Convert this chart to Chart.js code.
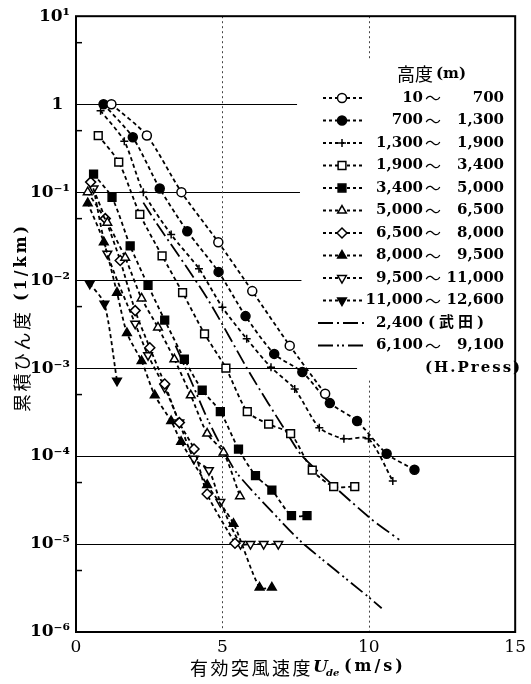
<!DOCTYPE html>
<html>
<head>
<meta charset="utf-8">
<script src="https://cdn.jsdelivr.net/npm/chart.js@4.4.0/dist/chart.umd.min.js"></script>
<style>
  html, body { margin: 0; padding: 0; background: #fff; }
  #wrap { width: 531px; height: 684px; position: relative; }
</style>
</head>
<body>
<div id="wrap"><canvas id="c" width="531" height="684"></canvas></div>
<script>
// ---- axis ticks ----
const X_TICKS = [0, 5, 10, 15];
const Y_DECADES = [1e-6, 1e-5, 1e-4, 1e-3, 1e-2, 1e-1, 1, 10];
const Y_TICK_LABELS = ['10⁻⁶', '10⁻⁵', '10⁻⁴', '10⁻³', '10⁻²', '10⁻¹', '1\u2009\u2009', '10¹'];

// ---- altitude bands (legend text) ----
const bandFrom = ['10', '700', '1,300', '1,900', '3,400', '5,000', '6,500', '8,000', '9,500', '11,000', '2,400', '6,100'];
const bandTo   = ['700', '1,300', '1,900', '3,400', '5,000', '6,500', '8,000', '9,500', '11,000', '12,600', '(武田)', '9,100'];

// ---- cumulative frequency (1/km) vs. effective gust velocity Ude (m/s) ----
const ude_10_700 = [1.21, 2.42, 3.6, 4.86, 6.02, 7.3, 8.51];
const n_10_700   = [1.0, 0.44, 0.1, 0.027, 0.0075, 0.0018, 5.1e-4];

const ude_700_1300 = [0.94, 1.94, 2.86, 3.8, 4.87, 5.79, 6.77, 7.73, 8.67, 9.6, 10.61, 11.56];
const n_700_1300   = [1.0, 0.42, 0.11, 0.036, 0.0124, 0.0039, 0.00145, 9e-4, 4e-4, 2.5e-4, 1.06e-4, 7e-5];

const ude_1300_1900 = [0.84, 1.65, 2.3, 3.25, 4.2, 5.0, 5.83, 6.66, 7.47, 8.31, 9.15, 9.99, 10.82];
const n_1300_1900   = [0.84, 0.38, 0.1, 0.033, 0.0135, 0.0049, 0.00215, 0.00102, 5.8e-4, 2.1e-4, 1.57e-4, 1.57e-4, 5.2e-5];

const ude_1900_3400 = [0.76, 1.46, 2.18, 2.94, 3.64, 4.39, 5.12, 5.85, 6.58, 7.33, 8.07, 8.8, 9.52];
const n_1900_3400   = [0.44, 0.22, 0.056, 0.0189, 0.0072, 0.00245, 0.001, 3.2e-4, 2.3e-4, 1.8e-4, 6.9e-5, 4.5e-5, 4.5e-5];

const ude_3400_5000 = [0.6, 1.23, 1.85, 2.46, 3.03, 3.7, 4.31, 4.93, 5.55, 6.13, 6.69, 7.36, 7.89];
const n_3400_5000   = [0.16, 0.087, 0.0245, 0.0087, 0.0035, 0.00126, 5.6e-4, 3.2e-4, 1.2e-4, 6e-5, 4.1e-5, 2.1e-5, 2.1e-5];

const ude_5000_6500 = [0.4, 1.07, 1.68, 2.24, 2.8, 3.36, 3.92, 4.48, 5.04, 5.6];
const n_5000_6500   = [0.1, 0.045, 0.018, 0.0062, 0.0029, 0.00126, 4.9e-4, 1.8e-4, 1.1e-4, 3.5e-5];

const ude_6500_8000 = [0.5, 1.0, 1.51, 2.02, 2.52, 3.03, 3.53, 4.03, 4.48, 5.43];
const n_6500_8000   = [0.13, 0.05, 0.0167, 0.0045, 0.0017, 6.6e-4, 2.4e-4, 1.2e-4, 3.7e-5, 1.02e-5];

const ude_8000_9500 = [0.4, 0.95, 1.4, 1.74, 2.24, 2.69, 3.25, 3.59, 4.48, 5.38, 6.27, 6.69];
const n_8000_9500   = [0.075, 0.027, 0.0072, 0.0025, 0.0012, 4.9e-4, 2.5e-4, 1.45e-4, 4.7e-5, 1.7e-5, 3.2e-6, 3.2e-6];

const ude_9500_11000 = [0.6, 1.07, 2.02, 2.46, 3.03, 3.53, 4.03, 4.54, 4.93, 5.62, 5.96, 6.41, 6.91];
const n_9500_11000   = [0.11, 0.02, 0.0032, 0.0014, 6e-4, 2.4e-4, 9.3e-5, 6.9e-5, 3e-5, 1e-5, 1e-5, 1e-5, 1e-5];

const ude_11000_12600 = [0.47, 0.97, 1.4];
const n_11000_12600   = [0.0091, 0.0054, 7.2e-4];

// reference curves
const ude_takeda = [2.3, 2.7, 4.47, 5.96, 7.19, 7.75, 9.99, 11.04];
const n_takeda   = [0.076, 0.047, 0.0063, 8.5e-4, 1.86e-4, 9.8e-5, 2.04e-5, 1.12e-5];

const ude_press = [3.4, 4.0, 4.5, 5.04, 5.51, 6.97, 7.75, 9.99, 10.44];
const n_press   = [1.8e-3, 6.3e-4, 2.6e-4, 1.15e-4, 6.3e-5, 1.86e-5, 1.02e-5, 2.5e-6, 1.86e-6];

const SERIES_X = [ude_10_700, ude_700_1300, ude_1300_1900, ude_1900_3400, ude_3400_5000, ude_5000_6500,
                  ude_6500_8000, ude_8000_9500, ude_9500_11000, ude_11000_12600, ude_takeda, ude_press];
const SERIES_Y = [n_10_700, n_700_1300, n_1300_1900, n_1900_3400, n_3400_5000, n_5000_6500,
                  n_6500_8000, n_8000_9500, n_9500_11000, n_11000_12600, n_takeda, n_press];

// ---- drawing styles, one per series ----
const DOTTED = [4, 3];
const STYLES = [
  { style: 'circle',   r: 4.5, fill: '#fff', rot: 0,   dash: DOTTED },
  { style: 'circle',   r: 4.5, fill: '#000', rot: 0,   dash: DOTTED },
  { style: 'cross',    r: 4,   fill: '#000', rot: 0,   dash: DOTTED },
  { style: 'rect',     r: 5.5, fill: '#fff', rot: 0,   dash: DOTTED },
  { style: 'rect',     r: 5.5, fill: '#000', rot: 0,   dash: DOTTED },
  { style: 'triangle', r: 5,   fill: '#fff', rot: 0,   dash: DOTTED },
  { style: 'rectRot',  r: 5,   fill: '#fff', rot: 0,   dash: DOTTED },
  { style: 'triangle', r: 5,   fill: '#000', rot: 0,   dash: DOTTED },
  { style: 'triangle', r: 5,   fill: '#fff', rot: 180, dash: DOTTED },
  { style: 'triangle', r: 5,   fill: '#000', rot: 180, dash: DOTTED },
  { style: false,      r: 0,   fill: '#000', rot: 0,   dash: [15, 4, 2, 4] },
  { style: false,      r: 0,   fill: '#000', rot: 0,   dash: [15, 4, 2, 3, 2, 4] }
];

const datasets = SERIES_X.map((xs, i) => {
  const s = STYLES[i];
  return {
    label: bandFrom[i] + '~' + bandTo[i],
    data: xs.map((x, k) => ({ x: x, y: SERIES_Y[i][k] })),
    showLine: true,
    borderColor: '#000',
    borderWidth: 1.8,
    borderDash: s.dash,
    tension: 0.25,
    fill: false,
    pointStyle: s.style || 'circle',
    pointRadius: s.style ? s.r : 0,
    pointHoverRadius: s.style ? s.r : 0,
    pointRotation: s.rot,
    pointBackgroundColor: s.fill,
    pointBorderColor: '#000',
    pointBorderWidth: 1.5
  };
});

const SERIF = '"DejaVu Serif", "Liberation Serif", serif';
const CJK = '"Noto Sans CJK JP", "Noto Sans CJK SC", sans-serif';

// grid lines, frame, axis titles and legend
const framePlugin = {
  id: 'frame',
  beforeDatasetsDraw(chart) {
    const { ctx, chartArea: a, scales: { x, y } } = chart;
    ctx.save();
    ctx.strokeStyle = '#000';
    ctx.lineWidth = 1;
    // horizontal decade lines (interrupted where the legend sits)
    [[1, 7.55], [0.1, 7.65], [0.01, 7.7], [0.001, 9.6], [1e-4, 15], [1e-5, 15]].forEach(([v, xe]) => {
      const py = Math.round(y.getPixelForValue(v)) + 0.5;
      ctx.beginPath();
      ctx.moveTo(a.left, py);
      ctx.lineTo(x.getPixelForValue(xe), py);
      ctx.stroke();
    });
    // dotted verticals at 5 and 10 m/s
    ctx.setLineDash([2, 3]);
    ctx.strokeStyle = '#444';
    const x5 = Math.round(x.getPixelForValue(5)) + 0.5;
    ctx.beginPath(); ctx.moveTo(x5, a.top); ctx.lineTo(x5, a.bottom); ctx.stroke();
    const x10 = Math.round(x.getPixelForValue(10)) + 0.5;
    ctx.beginPath(); ctx.moveTo(x10, a.top); ctx.lineTo(x10, y.getPixelForValue(3.1)); ctx.stroke();
    ctx.beginPath(); ctx.moveTo(x10, y.getPixelForValue(7.2e-4)); ctx.lineTo(x10, a.bottom); ctx.stroke();
    ctx.setLineDash([]);
    // minor ticks at 5 x 10^n on the left axis
    ctx.strokeStyle = '#000';
    ctx.lineWidth = 1.5;
    [5, 0.5, 0.05, 0.005, 5e-4, 5e-5, 5e-6].forEach(v => {
      const py = y.getPixelForValue(v);
      ctx.beginPath(); ctx.moveTo(a.left, py); ctx.lineTo(a.left + 6, py); ctx.stroke();
    });
    ctx.restore();
  },
  afterDraw(chart) {
    const { ctx, chartArea: a } = chart;
    ctx.save();
    // plot frame
    ctx.strokeStyle = '#000';
    ctx.lineWidth = 2;
    ctx.strokeRect(a.left, a.top, a.right - a.left, a.bottom - a.top);

    ctx.fillStyle = '#000';
    ctx.textBaseline = 'middle';

    // x-axis title
    ctx.font = '18px ' + CJK;
    ctx.textAlign = 'left';
    '有効突風速度'.split('').forEach((ch, i) => ctx.fillText(ch, 190 + i * 20.5, 668));
    ctx.font = 'italic bold 17px ' + SERIF;
    ctx.fillText('U', 313, 668);
    ctx.font = 'italic bold 10px ' + SERIF;
    ctx.fillText('de', 326, 673);
    ctx.font = 'bold 16px ' + SERIF;
    ctx.letterSpacing = '3px';
    ctx.fillText('(m/s)', 344, 667);
    ctx.letterSpacing = '0px';

    // y-axis title (rotated, reads bottom to top)
    ctx.save();
    ctx.translate(22, 0);
    ctx.rotate(-Math.PI / 2);
    ctx.font = '18px ' + CJK;
    '累積ひん度'.split('').forEach((ch, i) => ctx.fillText(ch, -412 + i * 20.5, 0));
    ctx.font = 'bold 16px ' + SERIF;
    ctx.letterSpacing = '3px';
    ctx.fillText('(1/km)', -301, 0);
    ctx.letterSpacing = '0px';
    ctx.restore();

    // legend
    ctx.font = '18px ' + CJK;
    ctx.fillText('高度', 397, 74);
    ctx.font = 'bold 15px ' + SERIF;
    ctx.fillText('(m)', 436, 74);
    for (let i = 0; i < STYLES.length; i++) {
      const s = STYLES[i];
      const yy = 98 + 22.5 * i;
      ctx.strokeStyle = '#000';
      ctx.lineWidth = 1.8;
      ctx.setLineDash(s.style ? [3, 3] : s.dash);
      ctx.beginPath(); ctx.moveTo(s.style ? 323 : 318, yy); ctx.lineTo(s.style ? 362 : 364, yy); ctx.stroke();
      ctx.setLineDash([]);
      if (s.style) {
        ctx.fillStyle = s.fill;
        ctx.strokeStyle = '#000';
        ctx.lineWidth = 1.5;
        Chart.helpers.drawPoint(ctx, { pointStyle: s.style, radius: s.r, rotation: s.rot, borderWidth: 1.5 }, 342, yy);
      }
      ctx.fillStyle = '#000';
      ctx.font = 'bold 15px ' + SERIF;
      ctx.textAlign = 'right';
      ctx.fillText(bandFrom[i], 423, yy);
      if (i === 10) {
        ctx.textAlign = 'left';
        ctx.font = 'bold 15px ' + SERIF + ', ' + CJK;
        ctx.letterSpacing = '4px';
        ctx.fillText(bandTo[i], 428, yy);
        ctx.letterSpacing = '0px';
      } else {
        ctx.textAlign = 'left';
        ctx.font = '16px ' + CJK;
        ctx.fillText('～', 425, yy);
        ctx.font = 'bold 15px ' + SERIF;
        ctx.textAlign = 'right';
        ctx.fillText(bandTo[i], 504, yy);
      }
    }
    ctx.textAlign = 'left';
    ctx.font = 'bold 15px ' + SERIF;
    ctx.letterSpacing = '2px';
    ctx.fillText('(H.Press)', 425, 368);
    ctx.letterSpacing = '0px';
    ctx.restore();
  }
};

new Chart(document.getElementById('c'), {
  type: 'scatter',
  data: { datasets: datasets },
  options: {
    responsive: false,
    animation: false,
    devicePixelRatio: 1,
    layout: { padding: { top: 15, right: 9, left: 0, bottom: 0 } },
    plugins: { legend: { display: false }, tooltip: { enabled: false } },
    scales: {
      x: {
        type: 'linear',
        min: 0, max: 15,
        afterBuildTicks: s => { s.ticks = X_TICKS.map(v => ({ value: v })); },
        afterFit: s => { s.height = 52; },
        grid: { display: false, drawTicks: false },
        border: { display: false },
        ticks: { color: '#000', padding: 5, font: { family: SERIF, size: 17 }, maxRotation: 0 }
      },
      y: {
        type: 'logarithmic',
        min: 1e-6, max: 10,
        afterBuildTicks: s => { s.ticks = Y_DECADES.map(v => ({ value: v })); },
        afterFit: s => { s.width = 76; },
        grid: { display: false, drawTicks: false },
        border: { display: false },
        ticks: {
          color: '#000', padding: 6, autoSkip: false,
          font: { family: SERIF, size: 17, weight: 'bold' },
          callback: (v) => Y_TICK_LABELS[Y_DECADES.indexOf(v)]
        }
      }
    }
  },
  plugins: [framePlugin]
});
</script>
</body>
</html>
